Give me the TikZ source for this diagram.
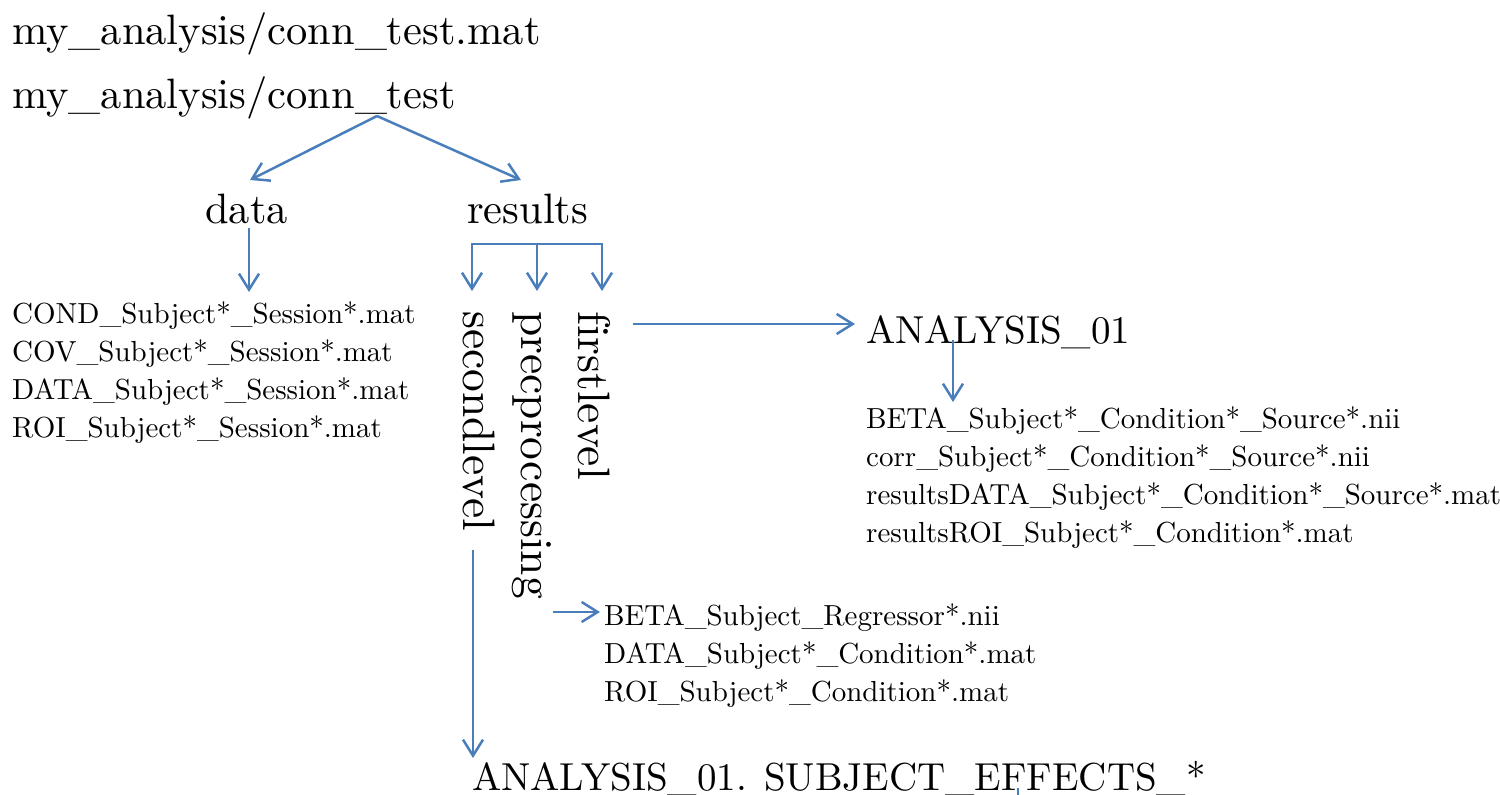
\documentclass[tikz,border=0pt]{standalone}
\usepackage{fontspec}
\setmainfont{lmroman10-regular.otf}[Ligatures=NoCommon]
\usetikzlibrary{arrows.meta}
\definecolor{linkblue}{RGB}{74,126,187}
\tikzset{
  bigtext/.style={font=\fontsize{42.5}{52}\selectfont, inner sep=0pt, anchor=base west},
  turntext/.style={font=\fontsize{45.5}{52}\selectfont, inner sep=0pt, anchor=base west, rotate=-90},
  midtext/.style={font=\fontsize{39}{48}\selectfont, inner sep=0pt, anchor=base west},
  filetext/.style={font=\fontsize{29}{36}\selectfont, inner sep=0pt, anchor=base west},
  link/.style={linkblue, line width=2.5pt,
    -{Straight Barb[length=16pt,width=20pt]}},
  plainlink/.style={linkblue, line width=2.5pt}
}

\begin{document}
\begin{tikzpicture}[x=1pt,y=-1pt]
\useasboundingbox (0,0) rectangle (1500,795);
% folders
\node[bigtext] (matfile) at (12,45) {my\_analysis/conn\_test.mat};
\node[bigtext] (folder) at (12,108) {my\_analysis/conn\_test};
\node[bigtext] (data) at (205,223) {data};
\node[bigtext] (results) at (467,223) {results};
\node[turntext] (second) at (463,311) {secondlevel};
\node[turntext] (prep) at (521,311) {precprocessing};
\node[turntext] (first) at (578,311) {firstlevel};
\node[midtext] (analysis) at (866,343) {ANALYSIS\_01};
\node[midtext] (effects) at (472,790) {ANALYSIS\_01. SUBJECT\_EFFECTS\_*};
% file lists
\foreach \f [count=\i] in {COND,COV,DATA,ROI}
  \node[filetext] (datafile\i) at (12,{323+38.3*(\i-1)}) {\f\_Subject*\_Session*.mat};
\foreach \f [count=\i] in {BETA\_Subject*\_Condition*\_Source*.nii,
    corr\_Subject*\_Condition*\_Source*.nii,
    resultsDATA\_Subject*\_Condition*\_Source*.mat,
    resultsROI\_Subject*\_Condition*.mat}
  \node[filetext] (firstfile\i) at (866,{428+38*(\i-1)}) {\f};
\foreach \f [count=\i] in {BETA\_Subject\_Regressor*.nii,
    DATA\_Subject*\_Condition*.mat,
    ROI\_Subject*\_Condition*.mat}
  \node[filetext] (prepfile\i) at (604,{625+38.3*(\i-1)}) {\f};
% arrow ends
\coordinate (fork) at (377,116);
\coordinate (datain) at (250,180);
\coordinate (resultsin) at (521,180);
\coordinate (dataout) at (249,228);
\coordinate (datafilesin) at (249,292);
\coordinate (split) at (537,244);
\coordinate (secondin) at (472,291);
\coordinate (prepin) at (537,291);
\coordinate (firstin) at (602,291);
\coordinate (firstout) at (633,324);
\coordinate (analysisin) at (855,324);
\coordinate (analysisout) at (953,340);
\coordinate (firstfilesin) at (953,402);
\coordinate (prepout) at (553,612);
\coordinate (prepfilesin) at (600,612);
\coordinate (secondout) at (473,550);
\coordinate (effectsin) at (473,758);
\coordinate (strayend) at (1018,788);
\coordinate (straybottom) at (1018,795);
% connectors
\draw[link] (fork) -- (datain);
\draw[link] (fork) -- (resultsin);
\draw[link] (dataout) -- (datafilesin);
\draw[link] (split) -| (secondin);
\draw[link] (split) -- (prepin);
\draw[link] (split) -| (firstin);
\draw[link] (firstout) -- (analysisin);
\draw[link] (analysisout) -- (firstfilesin);
\draw[link] (prepout) -- (prepfilesin);
\draw[link] (secondout) -- (effectsin);
\draw[plainlink] (strayend) -- (straybottom);
\end{tikzpicture}
\end{document}
